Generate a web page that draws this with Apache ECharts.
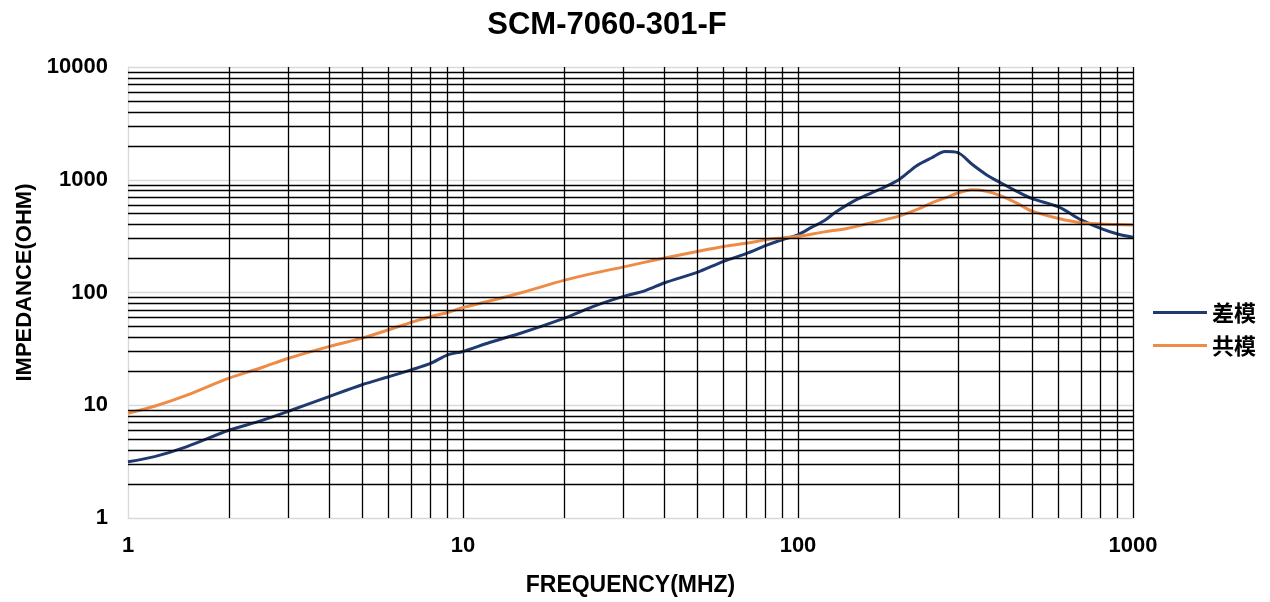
<!DOCTYPE html>
<html>
<head>
<meta charset="utf-8">
<script src="https://cdn.jsdelivr.net/npm/echarts@6/dist/echarts.min.js"></script>
<style>html,body{margin:0;padding:0;background:#fff}#c{width:1270px;height:602px}</style>
</head>
<body>
<div id="c"></div>
<script>
const titleText = 'SCM-7060-301-F';
const xName = 'FREQUENCY(MHZ)';
const yName = 'IMPEDANCE(OHM)';
const seriesNames = ['差模', '共模'];

// frequency (MHz) and impedance (ohm)
const freqDM = [1, 1.2, 1.5, 2, 2.5, 3, 4, 5, 6, 7, 8, 9, 10, 12, 15, 20, 25, 30, 35, 40, 50, 60, 70, 80, 90, 100, 110, 120, 130, 150, 175, 200, 225, 250, 275, 300, 330, 365, 400, 450, 500, 600, 700, 800, 900, 1000];
const zDM = [3.15, 3.5, 4.3, 6.0, 7.3, 8.8, 12.0, 15.2, 17.9, 20.6, 23.5, 28, 30, 36, 44, 59, 77, 92, 104, 122, 151, 189, 221, 260, 295, 325, 380, 435, 520, 670, 820, 1000, 1320, 1560, 1780, 1740, 1380, 1110, 950, 790, 680, 574, 440, 371, 330, 309];

const freqCM = [1, 1.2, 1.5, 2, 2.5, 3, 4, 5, 6, 7, 8, 9, 10, 12, 15, 20, 25, 30, 35, 40, 50, 60, 70, 80, 90, 100, 120, 140, 160, 200, 225, 250, 275, 300, 330, 365, 400, 450, 500, 600, 700, 800, 900, 1000];
const zCM = [8.5, 9.8, 12.3, 17.4, 21.5, 26, 33.3, 39.4, 46.7, 54.4, 61, 66.5, 73.6, 84, 100, 128, 150, 168, 186, 202, 231, 256, 273, 293, 305, 315, 345, 370, 405, 476, 540, 620, 690, 762, 814, 790, 727, 620, 526, 453, 415, 405, 400, 396];

// minor grid positions
const xMinorLines = [2, 3, 4, 5, 6, 7, 8, 9, 20, 30, 40, 50, 60, 70, 80, 90, 200, 300, 400, 500, 600, 700, 800, 900];
const yMinorLines = [2, 3, 4, 5, 6, 7, 8, 9, 20, 30, 40, 50, 60, 70, 80, 90, 200, 300, 400, 500, 600, 700, 800, 900, 2000, 3000, 4000, 5000, 6000, 7000, 8000, 9000];

const FONT = '"Liberation Sans", Arial, "Noto Sans CJK SC", sans-serif';
const chart = echarts.init(document.getElementById('c'), null, {renderer: 'canvas'});

const pair = (xs, ys) => xs.map((x, i) => [x, ys[i]]);

chart.setOption({
  animation: false,
  backgroundColor: '#fff',
  title: {
    text: titleText,
    left: 602, top: 5, textAlign: 'center',
    textStyle: {fontFamily: FONT, fontSize: 31, fontWeight: 'bold', color: '#000'}
  },
  legend: {
    data: seriesNames,
    orient: 'vertical',
    left: 1148, top: 296,
    icon: 'rect', itemWidth: 54, itemHeight: 3, itemGap: 10,
    textStyle: {fontFamily: '"Noto Sans CJK SC", sans-serif', fontSize: 22, fontWeight: 'bold', color: '#000', lineHeight: 23}
  },
  grid: {left: 128, right: 137, top: 67, bottom: 76, containLabel: false},
  xAxis: {
    type: 'log', logBase: 10, min: 1, max: 1000,
    name: xName, nameLocation: 'middle', nameGap: 56,
    nameTextStyle: {fontFamily: FONT, fontSize: 23, fontWeight: 'bold', color: '#000'},
    axisLine: {lineStyle: {color: '#d9d9d9', width: 1}},
    axisTick: {show: false},
    axisLabel: {margin: 17, fontFamily: FONT, fontSize: 22, fontWeight: 'bold', color: '#000', formatter: v => String(Math.round(v))},
    splitLine: {show: true, lineStyle: {color: ['#d9d9d9', '#000', '#000', '#000'], width: 1.3}}
  },
  yAxis: {
    type: 'log', logBase: 10, min: 1, max: 10000,
    name: yName, nameLocation: 'middle', nameGap: 92, nameRotate: 90,
    nameTextStyle: {fontFamily: FONT, fontSize: 22, fontWeight: 'bold', color: '#000', padding: [0, 0, 0, 20]},
    axisLine: {show: true, lineStyle: {color: '#d9d9d9', width: 1}},
    axisTick: {show: false},
    axisLabel: {margin: 20, fontFamily: FONT, fontSize: 22, fontWeight: 'bold', color: '#000', formatter: v => String(Math.round(v))},
    splitLine: {show: true, lineStyle: {color: '#d9d9d9', width: 1.3}}
  },
  series: [
    {
      name: 'grid', type: 'line', data: [], z: 1, silent: true,
      markLine: {
        silent: true, symbol: 'none', animation: false,
        label: {show: false},
        lineStyle: {color: '#000', width: 1.3, type: 'solid'},
        emphasis: {disabled: true},
        data: xMinorLines.map(v => ({xAxis: v})).concat(yMinorLines.map(v => ({yAxis: v})))
      }
    },
    {
      name: seriesNames[0], type: 'line', z: 3, smooth: 0.3, showSymbol: false,
      data: pair(freqDM, zDM),
      lineStyle: {color: '#1f3a70', width: 3}, itemStyle: {color: '#1f3a70'}
    },
    {
      name: seriesNames[1], type: 'line', z: 3, smooth: 0.3, showSymbol: false,
      data: pair(freqCM, zCM),
      lineStyle: {color: '#ee8b45', width: 3}, itemStyle: {color: '#ee8b45'}
    }
  ]
});
</script>
</body>
</html>
